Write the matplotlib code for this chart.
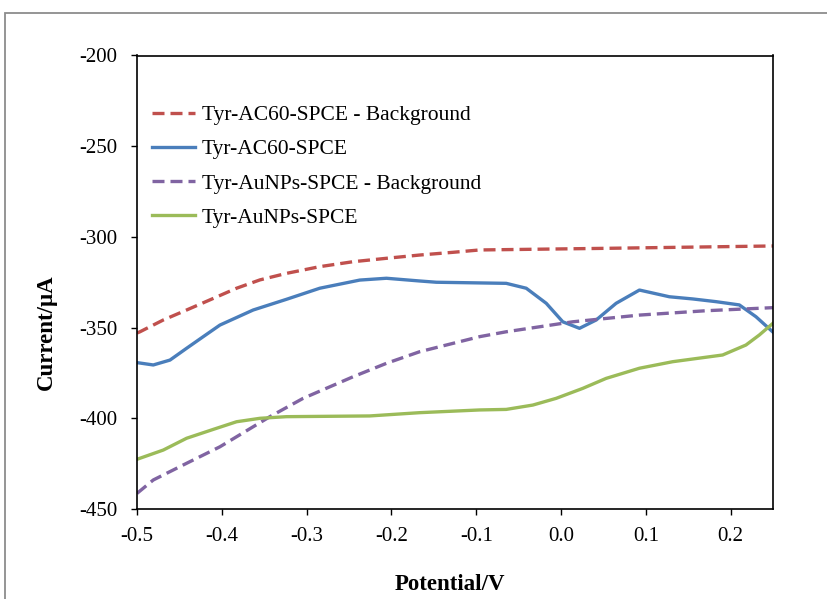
import matplotlib
matplotlib.use("Agg")
import matplotlib.pyplot as plt
from matplotlib.patches import Rectangle

plt.rcParams['font.family'] = ['Liberation Serif', 'DejaVu Serif']

# Data
red_x = [-0.5, -0.4965, -0.469, -0.4415, -0.41, -0.3826, -0.355, -0.3237, -0.2845, -0.2456, -0.206, -0.1667, -0.1275, -0.096, 0.0532, 0.25]
red_y = [-353.0, -352.3, -345.8, -340.3, -333.9, -328.3, -323.7, -320.1, -316.4, -313.7, -311.8, -310.0, -308.5, -307.2, -306.3, -305.0]

blue_x = [-0.5, -0.4985, -0.4808, -0.4611, -0.4415, -0.4219, -0.4022, -0.363, -0.3237, -0.2845, -0.2373, -0.2059, -0.1667, -0.147, -0.0646, -0.041, -0.0174, 0.0021, 0.0218, 0.0415, 0.065, 0.0925, 0.1278, 0.1553, 0.1828, 0.2103, 0.2299, 0.25]
blue_y = [-369.4, -369.4, -370.6, -367.9, -361.4, -355.0, -348.6, -340.3, -334.4, -328.3, -323.8, -322.8, -324.3, -325.0, -325.6, -328.3, -336.6, -346.8, -350.4, -345.8, -336.6, -329.3, -333.0, -334.2, -335.7, -337.5, -344.0, -352.5]

purple_x = [-0.5, -0.4808, -0.4415, -0.4022, -0.3433, -0.3041, -0.2452, -0.2059, -0.1667, -0.096, -0.0646, 0.0139, 0.0925, 0.171, 0.25]
purple_y = [-441.4, -434.0, -424.8, -415.7, -399.1, -389.0, -377.1, -369.7, -363.3, -355.0, -352.3, -346.8, -343.1, -340.7, -339.0]

green_x = [-0.5, -0.469, -0.4415, -0.41, -0.3826, -0.355, -0.3237, -0.2256, -0.1667, -0.096, -0.0646, -0.0332, -0.0057, 0.0257, 0.0532, 0.0925, 0.1317, 0.1906, 0.2181, 0.2338, 0.25]
green_y = [-422.6, -417.5, -411.0, -406.1, -401.9, -400.0, -399.1, -398.7, -396.9, -395.4, -395.1, -392.7, -389.0, -383.5, -378.0, -372.4, -368.8, -365.1, -359.6, -354.1, -347.6]

labels = ["Tyr-AC60-SPCE - Background", "Tyr-AC60-SPCE",
          "Tyr-AuNPs-SPCE - Background", "Tyr-AuNPs-SPCE"]
x_ticks = [-0.5, -0.4, -0.3, -0.2, -0.1, 0.0, 0.1, 0.2]
y_ticks = [-450, -400, -350, -300, -250, -200]

W, H = 827, 599
fig = plt.figure(figsize=(W / 100, H / 100), dpi=100)
fig.patches.append(Rectangle((5 / W, -0.05), 1.1, 1 - 12.7 / H + 0.05,
                             transform=fig.transFigure, fill=False,
                             edgecolor='#8c8c8c', linewidth=1.3))
L, R, T, B = 137, 773, 55.5, 509
ax = fig.add_axes([L / W, 1 - B / H, (R - L) / W, (B - T) / H])

lw = 2.4
ax.plot(red_x, red_y, color='#C0504D', lw=lw, dashes=(3.6, 1.8), label=labels[0])
ax.plot(blue_x, blue_y, color='#4A7EBB', lw=lw, label=labels[1])
ax.plot(purple_x, purple_y, color='#8064A2', lw=lw, dashes=(3.6, 1.8), label=labels[2])
ax.plot(green_x, green_y, color='#9BBB59', lw=lw, label=labels[3])

ax.set_xlim(-0.5, 0.25)
ax.set_ylim(-450, -200)
ax.set_xticks(x_ticks)
ax.set_xticklabels([f"{v:.1f}" for v in x_ticks])
ax.set_yticks(y_ticks)
ax.set_yticklabels([str(v) for v in y_ticks])
ax.tick_params(axis='both', direction='out', length=4, width=1, labelsize=15,
               colors='black')
ax.tick_params(axis='x', pad=9)
ax.tick_params(axis='y', pad=10)
for s in ax.spines.values():
    s.set_linewidth(1.2)
    s.set_color('black')

xl = ax.set_xlabel("Potential/V", fontsize=16.5, fontweight='bold')
yl = ax.set_ylabel("Current/μA", fontsize=16.5, fontweight='bold')
ax.xaxis.set_label_coords((450 - L) / (R - L), (B - 584) / (B - T))
xl.set_va('center')
ax.yaxis.set_label_coords((46 - L) / (R - L), (B - 332) / (B - T))
yl.set_va('center')

leg = ax.legend(loc='upper left',
                bbox_to_anchor=((152 - L) / (R - L), (B - 105) / (B - T)),
                frameon=False, fontsize=15.5, handlelength=2.0,
                handletextpad=0.3, labelspacing=0.66, borderpad=0,
                borderaxespad=0)

fig.savefig("out.png", dpi=100)
